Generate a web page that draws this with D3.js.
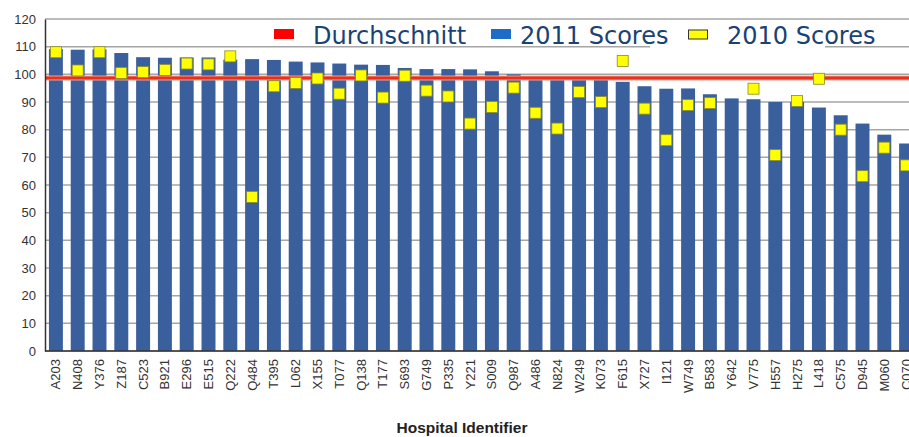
<!DOCTYPE html>
<html>
<head>
<meta charset="utf-8">
<script src="https://cdn.jsdelivr.net/npm/d3@7"></script>
<style>
  body { margin: 0; background: #fff; }
  svg { display: block; }
</style>
</head>
<body>
<div id="chart"></div>
<script>
// --- Data
const hospitals = ['A203','N408','Y376','Z187','C523','B921','E296','E515','Q222','Q484',
  'T395','L062','X155','T077','Q138','T177','S693','G749','P335','Y221',
  'S009','Q987','A486','N824','W249','K073','F615','X727','I121','W749',
  'B583','Y642','V775','H557','H275','L418','C575','D945','M060','C070'];
const scores2011 = [109.1, 108.9, 109, 107.7, 106.2, 106, 106.1, 106.1, 105.3, 105.5,
  105.2, 104.6, 104.3, 103.9, 103.5, 103.4, 102.3, 101.9, 101.9, 101.8,
  101.1, 100, 98.8, 98.4, 98.4, 98, 97.3, 95.7, 94.8, 94.9,
  92.8, 91.3, 91, 90, 90, 88, 85.2, 82.2, 78.2, 75];
const scores2010 = [108, 101.4, 108, 100.5, 100.8, 101.6, 103.9, 103.6, 106.5, 55.7,
  95.7, 96.9, 98.5, 93, 99.6, 91.6, 99.5, 94.1, 92, 82.2,
  88.2, 95.2, 86.1, 80.4, 93.6, 90, 104.8, 87.6, 76.2, 88.9,
  89.6, null, 94.8, 70.8, 90.4, 98.4, 80, 63.2, 73.5, 67.1];
const average = 98.7;
const yTicks = [0, 10, 20, 30, 40, 50, 60, 70, 80, 90, 100, 110, 120];
const legendItems = ['Durchschnitt', '2011 Scores', '2010 Scores'];

// --- Layout
const width = 909, height = 437;
const margin = { t: 19, l: 45, b: 86 };
const step = 21.8;

const svg = d3.select('#chart').append('svg')
  .attr('width', width).attr('height', height);

const x = d3.scaleBand().domain(hospitals)
  .range([margin.l, margin.l + step * hospitals.length])
  .paddingInner(0.36).paddingOuter(0.18);
const y = d3.scaleLinear().domain([0, 120]).range([height - margin.b, margin.t]);

// grid
svg.append('g').selectAll('line').data(yTicks).join('line')
  .attr('x1', margin.l).attr('x2', width)
  .attr('y1', d => y(d)).attr('y2', d => y(d))
  .attr('stroke', '#a6a6a6').attr('stroke-width', 1.5);

// bars 2011
svg.append('g').selectAll('rect').data(hospitals).join('rect')
  .attr('x', d => x(d)).attr('width', x.bandwidth())
  .attr('y', (d, i) => y(scores2011[i]))
  .attr('height', (d, i) => y(0) - y(scores2011[i]))
  .attr('fill', '#3a5f9d');

// average line
svg.append('line')
  .attr('x1', margin.l).attr('x2', width)
  .attr('y1', y(average)).attr('y2', y(average))
  .attr('stroke', '#f6a08f').attr('stroke-width', 5);
svg.append('line')
  .attr('x1', margin.l).attr('x2', width)
  .attr('y1', y(average)).attr('y2', y(average))
  .attr('stroke', '#e8301c').attr('stroke-width', 3);

// 2010 squares
const sq = 11;
svg.append('g').selectAll('rect')
  .data(hospitals.map((h, i) => ({ h, v: scores2010[i] })).filter(d => d.v != null))
  .join('rect')
  .attr('x', d => x(d.h) + x.bandwidth() / 2 - sq / 2)
  .attr('y', d => y(d.v) - sq / 2)
  .attr('width', sq).attr('height', sq)
  .attr('fill', '#ffff00').attr('stroke', '#8a8a2a').attr('stroke-width', 0.8);

// axes
const yAxis = svg.append('g').attr('transform', `translate(${margin.l},0)`)
  .call(d3.axisLeft(y).tickValues(yTicks).tickSize(0).tickPadding(9));
yAxis.select('.domain').attr('stroke', '#333').attr('stroke-width', 1.5);
yAxis.selectAll('text').attr('font-family', 'Liberation Sans, Arial, sans-serif')
  .attr('font-size', 13).attr('fill', '#333');

const xAxis = svg.append('g').attr('transform', `translate(0,${y(0)})`)
  .call(d3.axisBottom(x).tickSize(0));
xAxis.select('.domain').attr('stroke', '#333').attr('stroke-width', 1.5)
  .attr('d', `M${margin.l},0H${width}`);
xAxis.selectAll('text')
  .attr('font-family', 'Liberation Sans, Arial, sans-serif')
  .attr('font-size', 13).attr('fill', '#333')
  .attr('transform', 'rotate(-90)')
  .attr('text-anchor', 'end')
  .attr('x', -8).attr('y', 0).attr('dy', '0.35em');

// axis title
svg.append('text')
  .attr('x', 462).attr('y', 433)
  .attr('text-anchor', 'middle')
  .attr('font-family', 'Liberation Sans, Arial, sans-serif')
  .attr('font-weight', 'bold').attr('font-size', 15.5).attr('fill', '#222')
  .text('Hospital Identifier');

// legend
svg.append('rect').attr('x', 650).attr('y', 21).attr('width', 175).attr('height', 27).attr('fill', '#fff');
const lg = svg.append('g').attr('font-family', 'DejaVu Sans, Verdana, sans-serif')
  .attr('font-size', 24).attr('fill', '#1a4273');
const legendX = [274, 491, 688];
const legendTextX = [313, 520, 727];
lg.append('rect').attr('x', legendX[0]).attr('y', 29).attr('width', 20).attr('height', 10).attr('fill', '#ff0000');
lg.append('rect').attr('x', legendX[1]).attr('y', 29).attr('width', 20).attr('height', 10).attr('fill', '#1f6cc8');
lg.append('rect').attr('x', legendX[2] + 0.5).attr('y', 30).attr('width', 19).attr('height', 9)
  .attr('fill', '#ffff00').attr('stroke', '#333').attr('stroke-width', 1);
lg.selectAll('text').data(legendItems).join('text')
  .attr('x', (d, i) => legendTextX[i]).attr('y', 44)
  .text(d => d);
</script>
</body>
</html>
